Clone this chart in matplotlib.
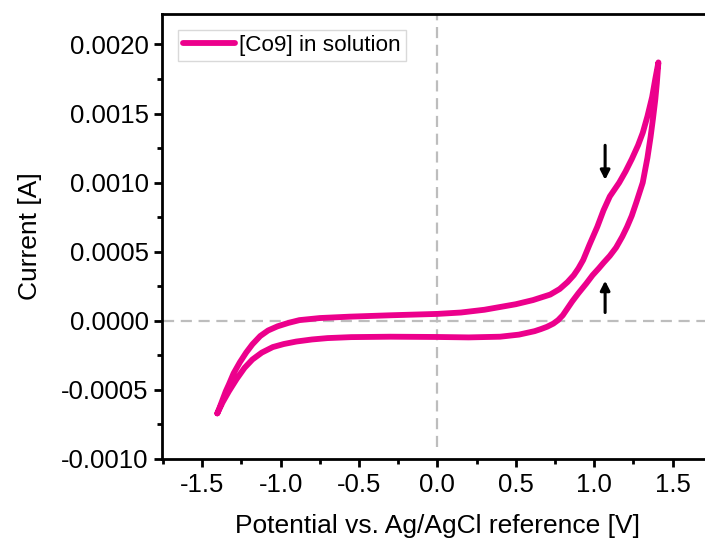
import matplotlib
matplotlib.use("Agg")
import matplotlib.pyplot as plt
from matplotlib.ticker import MultipleLocator, FormatStrFormatter

plt.rcParams['font.family'] = ['Liberation Sans', 'DejaVu Sans']

# Cyclic voltammogram of [Co9] in solution (potential in V, current in A)
# outer branch: from the cathodic turn-around up to the anodic vertex
branch_a_potential = [-1.404, -1.39, -1.37, -1.35, -1.33, -1.30, -1.26, -1.22, -1.18, -1.13,
                      -1.08, -1.02, -0.95, -0.88, -0.75, -0.56, -0.30, 0.00, 0.15, 0.30,
                      0.40, 0.50, 0.61, 0.72, 0.78, 0.83, 0.87, 0.90, 0.93, 0.97,
                      1.02, 1.06, 1.10, 1.16, 1.20, 1.24, 1.28, 1.31, 1.34, 1.37,
                      1.39, 1.41]
branch_a_current = [-0.00067, -0.00063, -0.00057, -0.00051, -0.00046, -0.00038, -0.0003, -0.00023, -0.00017, -0.00011,
                    -0.00007, -0.00004, -0.000015, 0.000005, 0.00002, 0.00003, 0.00004, 0.00005, 0.00006, 0.00008,
                    0.0001, 0.00012, 0.00015, 0.00019, 0.00023, 0.00028, 0.00033, 0.00038, 0.00044, 0.00055,
                    0.00068, 0.0008, 0.0009, 0.001, 0.00108, 0.00117, 0.00127, 0.00136, 0.00148, 0.00162,
                    0.00175, 0.00187]
# inner branch: from the anodic vertex back to the cathodic turn-around
branch_b_potential = [1.41, 1.40, 1.39, 1.375, 1.36, 1.34, 1.31, 1.27, 1.24, 1.21,
                      1.18, 1.14, 1.10, 1.06, 1.03, 0.99, 0.95, 0.90, 0.86, 0.83,
                      0.80, 0.77, 0.74, 0.70, 0.66, 0.62, 0.52, 0.40, 0.20, 0.00,
                      -0.30, -0.55, -0.70, -0.80, -0.90, -0.98, -1.05, -1.12, -1.18,
                      -1.23, -1.28, -1.33, -1.37, -1.404]
branch_b_current = [0.00187, 0.00172, 0.0016, 0.00146, 0.00133, 0.00118, 0.001, 0.00086, 0.00076, 0.00068,
                    0.00061, 0.00053, 0.00047, 0.00042, 0.00038, 0.00033, 0.00027, 0.0002, 0.00014, 0.00009,
                    0.00004, 0.000005, -0.00002, -0.000043, -0.00006, -0.000075, -0.0001, -0.000115, -0.00012, -0.000117,
                    -0.000115, -0.000118, -0.000125, -0.000135, -0.00015, -0.000168, -0.00019, -0.00023, -0.00028,
                    -0.00034, -0.00042, -0.00051, -0.00059, -0.00067]

series_label = "[Co9] in solution"
x_ticks = [-1.5, -1.0, -0.5, 0.0, 0.5, 1.0, 1.5]
y_ticks = [-0.0010, -0.0005, 0.0000, 0.0005, 0.0010, 0.0015, 0.0020]

# peak markers: (potential, arrow tail current, arrow head current)
peak_arrows = [(1.07, 0.00127, 0.00102), (1.07, 0.00006, 0.00029)]

fig = plt.figure(figsize=(7.05, 5.4), dpi=100)
ax = fig.add_axes([0.2304, 0.15, 0.78, 0.824])

line_color = '#EC008C'
potential = branch_a_potential + branch_b_potential[1:]
current = branch_a_current + branch_b_current[1:]
ax.plot(potential, current, color=line_color, lw=4.2, solid_joinstyle='round',
        solid_capstyle='round', label=series_label, zorder=3)

# zero reference lines
ax.plot([-1.75, 1.75], [0, 0], ls=(0, (5, 3)), color='#BDBDBD', lw=1.6, zorder=2)
ax.plot([0, 0], [-0.00091, 0.00222], ls=(0, (5, 3)), color='#BDBDBD', lw=1.6, zorder=2)

for xp, y0, y1 in peak_arrows:
    ax.annotate('', xy=(xp, y1), xytext=(xp, y0),
                arrowprops=dict(arrowstyle='-|>,head_width=0.28,head_length=0.55',
                                color='black', lw=2.2, shrinkA=0, shrinkB=0), zorder=4)

ax.set_xlim(-1.754, 1.754)
ax.set_ylim(-0.0010, 0.00222)
ax.set_xticks(x_ticks)
ax.set_yticks(y_ticks)
ax.xaxis.set_minor_locator(MultipleLocator(0.25))
ax.yaxis.set_minor_locator(MultipleLocator(0.00025))
ax.xaxis.set_major_formatter(FormatStrFormatter('%.1f'))
ax.yaxis.set_major_formatter(FormatStrFormatter('%.4f'))
ax.tick_params(which='major', direction='out', length=6, width=2, labelsize=18.5, pad=4)
ax.tick_params(which='minor', direction='out', length=3.5, width=2)
for s in ax.spines.values():
    s.set_linewidth(2)

ax.set_xlabel('Potential vs. Ag/AgCl reference [V]', fontsize=19, labelpad=12)
ax.set_ylabel('Current [A]', fontsize=19, labelpad=14)

leg = ax.legend(loc='upper left', bbox_to_anchor=(0.028, 0.965), fontsize=16.2,
                frameon=True, fancybox=False, handlelength=2.3, handletextpad=0.2,
                borderpad=0.22, borderaxespad=0)
leg.get_frame().set_edgecolor('#D0D0D0')
leg.get_frame().set_linewidth(1.0)

fig.savefig('out.png', dpi=100)
